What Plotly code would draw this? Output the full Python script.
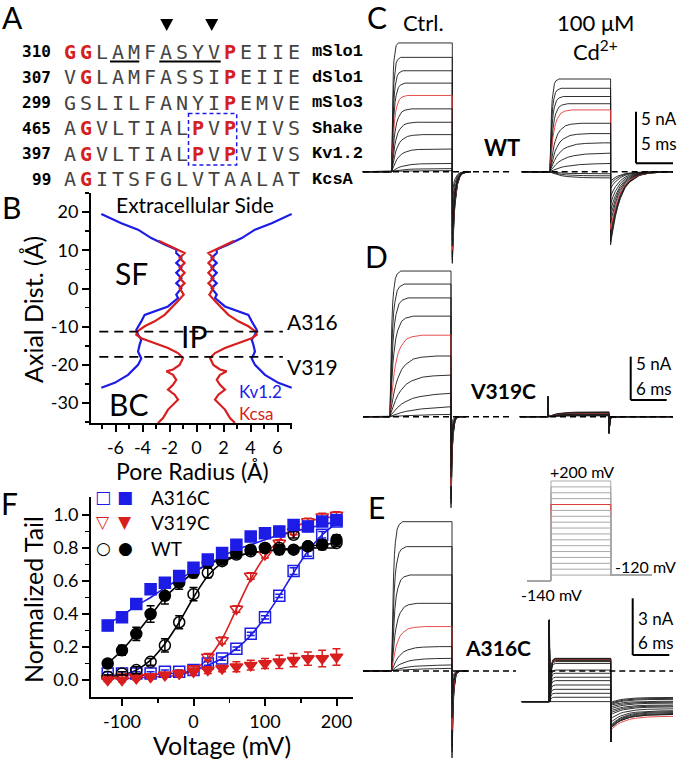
import plotly.graph_objects as go

W, H = 678, 761
FONT = "Lato, 'Open Sans', sans-serif"
MONO = "'DejaVu Sans Mono', monospace"
SMONO = "'Liberation Mono', monospace"
BLUE = "#1c1ce6"
RED = "#d81e1e"
TRED = "#e23a3a"
BLACK = "#1a1a1a"

# ---------------- Panel A : alignment ----------------
SEQ_NUMS = ["310", "307", "299", "465", "397", "99"]
SEQ_ROWS = ["GGLAMFASYVPEIIE", "VGLAMFASSIPEIIE", "GSLILFANYIPEMVE",
            "AGVLTIALPVPVIVS", "AGVLTIALPVPVIVS", "AGITSFGLVTAALAT"]
SEQ_NAMES = ["mSlo1", "dSlo1", "mSlo3", "Shake", "Kv1.2", "KcsA"]
SEQ_RED = [[0, 1, 10], [1, 10], [10], [1, 8, 10], [1, 8, 10], [1]]

# ---------------- Panel B : pore radius profiles ----------------
KV_Z = [19.5, 17.1, 15.4, 13.2, 11.5, 10.2, 9.3, 8.0, 6.7, 5.4, 4.1, 2.7, 1.4, 0.1, -1.6,
        -2.5, -4.7, -6.0, -6.9, -8.6, -10.8, -12.1, -13.4, -14.7, -16.5, -18.3, -20.0,
        -22.6, -24.7, -26.0]
KV_R = [7.05, 5.57, 4.33, 3.35, 2.36, 1.50, 1.50, 1.12, 1.50, 1.12, 1.50, 1.12, 1.50, 1.12,
        1.50, 1.37, 2.11, 3.10, 3.84, 4.09, 4.46, 4.33, 4.09, 4.21, 4.33, 4.09, 4.33,
        5.07, 6.06, 7.05]
KC_Z = [12.5, 10.8, 9.3, 8.0, 6.7, 5.4, 4.1, 2.7, 1.4, 0.1, -1.6, -3.3, -5.1, -6.9, -8.6,
        -9.9, -11.3, -12.1, -13.0, -14.3, -15.6, -16.9, -18.2, -20.0, -21.2, -21.7, -22.6,
        -23.9, -25.2, -26.5, -27.8, -29.1, -30.4, -31.7, -33.9, -35.2]
KC_R = [2.80, 1.80, 0.88, 1.25, 0.88, 1.25, 0.88, 1.25, 0.88, 1.25, 0.95, 1.37, 1.86, 2.36,
        3.10, 3.84, 4.40, 4.46, 4.09, 3.10, 2.11, 1.37, 1.00, 1.25, 1.74, 2.23, 1.74,
        1.50, 1.74, 2.11, 1.62, 1.37, 1.74, 2.11, 2.48, 2.85]
B_XTICKS = [-6, -4, -2, 0, 2, 4, 6]
B_YTICKS = [-30, -20, -10, 0, 10, 20]
A316_Z, V319_Z = -11.3, -17.9

# ---------------- Panel F : normalized tail ----------------
V_STEPS = [-120, -100, -80, -60, -40, -20, 0, 20, 40, 60, 80, 100, 120, 140, 160, 180, 200]
A316C_OPEN = [0.04, 0.04, 0.04, 0.04, 0.05, 0.05, 0.06, 0.10, 0.13, 0.19, 0.28, 0.38, 0.51, 0.66, 0.77, 0.88, 0.96]
A316C_FILL = [0.33, 0.38, 0.46, 0.55, 0.59, 0.63, 0.68, 0.73, 0.77, 0.82, 0.87, 0.89, 0.90, 0.94, 0.93, 0.96, 0.97]
V319C_OPEN = [0.01, 0.02, 0.02, 0.02, 0.03, 0.04, 0.07, 0.14, 0.24, 0.43, 0.63, 0.76, 0.83, 0.90, 0.96, 0.99, 1.00]
V319C_FILL = [0.00, 0.00, 0.01, 0.02, 0.03, 0.04, 0.05, 0.06, 0.07, 0.08, 0.09, 0.10, 0.11, 0.12, 0.13, 0.13, 0.14]
WT_OPEN = [0.02, 0.04, 0.06, 0.11, 0.21, 0.35, 0.52, 0.65, 0.72, 0.76, 0.78, 0.80, 0.80, 0.88, 0.81, 0.82, 0.83]
WT_FILL = [0.10, 0.18, 0.28, 0.40, 0.51, 0.59, 0.65, 0.71, 0.73, 0.77, 0.79, 0.80, 0.79, 0.79, 0.81, 0.82, 0.85]
A316C_OPEN_ERR = [0.01, 0.01, 0.01, 0.01, 0.01, 0.01, 0.01, 0.01, 0.01, 0.01, 0.01, 0.01, 0.01, 0.02, 0.02, 0.02, 0.02]
A316C_FILL_ERR = [0.03, 0.03, 0.03, 0.03, 0.02, 0.02, 0.02, 0.02, 0.02, 0.02, 0.02, 0.02, 0.03, 0.02, 0.03, 0.02, 0.03]
V319C_OPEN_ERR = [0.01, 0.01, 0.01, 0.01, 0.01, 0.01, 0.01, 0.02, 0.02, 0.02, 0.02, 0.02, 0.02, 0.02, 0.02, 0.02, 0.02]
V319C_FILL_ERR = [0.01, 0.01, 0.01, 0.01, 0.01, 0.02, 0.02, 0.02, 0.02, 0.03, 0.03, 0.03, 0.04, 0.04, 0.04, 0.05, 0.05]
WT_OPEN_ERR = [0.01, 0.01, 0.02, 0.02, 0.04, 0.04, 0.04, 0.03, 0.02, 0.02, 0.02, 0.02, 0.02, 0.02, 0.02, 0.02, 0.02]
WT_FILL_ERR = [0.02, 0.03, 0.04, 0.05, 0.05, 0.04, 0.03, 0.03, 0.03, 0.02, 0.02, 0.02, 0.03, 0.02, 0.02, 0.03, 0.03]
FIT_A316C_OPEN = [0.03, 0.03, 0.03, 0.03, 0.04, 0.04, 0.06, 0.09, 0.13, 0.19, 0.27, 0.38, 0.51, 0.65, 0.78, 0.88, 0.95]
FIT_A316C_FILL = [0.34, 0.39, 0.45, 0.50, 0.56, 0.61, 0.66, 0.70, 0.75, 0.79, 0.82, 0.85, 0.88, 0.90, 0.92, 0.94, 0.96]
FIT_V319C_OPEN = [0.01, 0.01, 0.01, 0.02, 0.02, 0.03, 0.06, 0.13, 0.25, 0.43, 0.61, 0.75, 0.85, 0.92, 0.96, 0.98, 0.99]
FIT_WT_OPEN = [0.02, 0.03, 0.06, 0.12, 0.22, 0.35, 0.50, 0.63, 0.71, 0.75, 0.77, 0.78, 0.79, 0.79, 0.80, 0.80, 0.80]
FIT_WT_FILL = [0.10, 0.18, 0.28, 0.39, 0.50, 0.58, 0.65, 0.70, 0.73, 0.75, 0.77, 0.78, 0.79, 0.80, 0.81, 0.82, 0.83]
F_XTICKS = [-100, 0, 100, 200]
F_YTICKS = [0.0, 0.2, 0.4, 0.6, 0.8, 1.0]

# ---------------- Current traces (nA, ms) ----------------
# shared relaxation profile (time in units of tau, fraction completed)
SHAPE_T = [0, 0.1, 0.25, 0.5, 0.75, 1, 1.5, 2, 3, 4, 6]
SHAPE_F = [0, 0.10, 0.22, 0.39, 0.53, 0.63, 0.78, 0.86, 0.95, 0.98, 1.0]

# C : WT
C_CTRL_AMP = [12.5, 11.1, 9.8, 8.6, 7.4, 6.1, 4.8, 3.6, 2.2, 0.8, 0.3, 0.1]
C_CTRL_TAU = [0.15, 0.2, 0.25, 0.3, 0.35, 0.45, 0.55, 0.7, 0.9, 1.3, 1.6, 2.0]
C_CTRL_TAIL = [-8.9, -8.6, -8.3, -8.0, -7.6, -7.2, -6.7, -6.1, -5.3, -4.2, -3.0, -2.0]
C_CD_AMP = [9.0, 8.1, 7.3, 6.6, 6.0, 4.7, 3.7, 2.8, 1.8, 0.8, -0.2, -0.4, -0.6]
C_CD_TAU = [0.2, 0.25, 0.3, 0.4, 0.5, 0.7, 0.9, 1.2, 1.6, 2.0, 1.5, 1.5, 1.5]
C_CD_TAIL = [-7.1, -6.8, -6.4, -6.0, -5.6, -5.0, -4.4, -3.8, -3.1, -2.4, -1.6, -1.2, -0.9]
C_RED = 4
# D : V319C
D_CTRL_AMP = [16.8, 15.3, 13.7, 11.6, 9.4, 7.0, 4.8, 2.7, 1.15, 0.3]
D_CTRL_TAU = [0.3, 0.4, 0.5, 0.65, 0.9, 1.3, 1.8, 2.5, 3.5, 5.0]
D_CTRL_TAIL = [-10.5, -10.0, -9.5, -8.8, -8.0, -7.0, -5.8, -4.4, -3.0, -1.5]
D_CD_AMP = [0.55, 0.5, 0.45, 0.4, 0.35, 0.3, 0.25, 0.2, 0.15, 0.1]
D_CD_TAIL = [-0.3, -0.28, -0.25, -0.22, -0.2, -0.18, -0.15, -0.12, -0.1, -0.08]
D_CD_SPIKE_ON, D_CD_SPIKE_OFF = 2.3, -1.9
D_RED = 4
# E : A316C
E_CTRL_AMP = [7.9, 6.58, 5.08, 3.58, 2.35, 1.29, 0.67, 0.32, 0.14]
E_CTRL_TAU = [0.3, 0.4, 0.5, 0.7, 0.9, 1.3, 1.8, 2.5, 3.5]
E_CTRL_TAIL = [-4.6, -4.3, -4.0, -3.6, -3.1, -2.5, -1.8, -1.2, -0.6]
E_CD_HOLD = -1.62
E_CD_AMP = [0.67, 0.65, 0.63, 0.60, 0.58, 0.55, 0.50, 0.40, 0.05, -0.12, -0.33, -0.51, -0.74,
            -0.97, -1.18, -1.39, -1.62]
E_CD_TAIL0 = [-3.0, -3.0, -2.95, -2.9, -3.1, -2.85, -2.7, -2.5, -2.3, -2.2, -2.1, -2.0, -1.9,
              -1.8, -1.75, -1.7, -1.65]
E_CD_TAIL1 = [-2.3, -2.3, -2.25, -2.2, -2.4, -2.15, -2.1, -2.0, -1.9, -1.85, -1.8, -1.7, -1.65,
              -1.6, -1.5, -1.45, -1.4]
E_CD_SPIKE_ON, E_CD_SPIKE_OFF = 2.7, -3.75
E_RED = 4
# protocol (mV)
PROTO_STEPS = [200, 180, 160, 140, 120, 100, 80, 60, 40, 20, 0, -20, -40, -60, -80, -100, -120]
PROTO_HOLD, PROTO_TAIL = -140, -120
PROTO_RED = 4

# ============ layout geometry (pixels) ============
def xdom(a, b):
    return [a / W, b / W]

def ydom(top, bottom):
    return [1 - bottom / H, 1 - top / H]

def xrng(a, b, origin, scale):
    return [(a - origin) / scale, (b - origin) / scale]

def yrng(top, bottom, origin, scale):
    return [(origin - bottom) / scale, (origin - top) / scale]

def px(x):
    return x / W

def py(y):
    return 1 - y / H

annotations = []
shapes = []

def text(x, y, s, size, color="black", family=FONT, xanchor="center", yanchor="middle", angle=0):
    annotations.append(dict(x=px(x), y=py(y), xref="paper", yref="paper", text=s, showarrow=False,
                            font=dict(size=size, color=color, family=family),
                            xanchor=xanchor, yanchor=yanchor, textangle=angle))

fig = go.Figure()

# ---------- Panel A ----------
ROW_Y0, ROW_DY = 51.5, 25.6
SEQ_X0, SEQ_DX = 61.7, 16.0
for i, (num, seq, name, reds) in enumerate(zip(SEQ_NUMS, SEQ_ROWS, SEQ_NAMES, SEQ_RED)):
    y = ROW_Y0 + i * ROW_DY
    text(53, y, f"<b>{num}</b>", 16, family=MONO, xanchor="right")
    for j, ch in enumerate(seq):
        cx = SEQ_X0 + SEQ_DX * j + 8
        if j in reds:
            text(cx, y, f"<b>{ch}</b>", 20, color="#d42020", family=MONO)
        else:
            text(cx, y, ch, 20, color="#444444", family=MONO)
    text(310, y, f"<b>{name}</b>", 17, family=SMONO, xanchor="left")

for x0, x1 in [(110, 139.3), (159.3, 220.7)]:
    shapes.append(dict(type="line", xref="paper", yref="paper", x0=px(x0), x1=px(x1),
                       y0=py(61.5), y1=py(61.5), line=dict(color="black", width=2)))
for cx in [166.7, 211.7]:
    shapes.append(dict(type="path", xref="paper", yref="paper",
                       path=f"M {px(cx-6.5)},{py(19)} L {px(cx+6.5)},{py(19)} L {px(cx)},{py(31)} Z",
                       fillcolor="black", line=dict(width=0)))
shapes.append(dict(type="rect", xref="paper", yref="paper", x0=px(188.5), x1=px(236.7),
                   y0=py(113.5), y1=py(165), line=dict(color=BLUE, width=1.5, dash="4px,3px")))

# panel letters
for lab, x, y in [("A", 12.5, 16.7), ("B", 11, 207), ("F", 9, 503),
                  ("C", 376.7, 17.5), ("D", 376.7, 256), ("E", 376, 506.7)]:
    text(x, y, lab, 30)

# ---------- Panel B ----------
for zs, rs, col in [(KV_Z, KV_R, BLUE), (KC_Z, KC_R, RED)]:
    fig.add_trace(go.Scatter(x=[-r for r in rs], y=zs, mode="lines", xaxis="x", yaxis="y",
                             line=dict(color=col, width=2.2), hoverinfo="skip"))
    fig.add_trace(go.Scatter(x=rs, y=zs, mode="lines", xaxis="x", yaxis="y",
                             line=dict(color=col, width=2.2), hoverinfo="skip"))
for zline in [A316_Z, V319_Z]:
    fig.add_trace(go.Scatter(x=[-7.2, 6.4], y=[zline, zline], mode="lines", xaxis="x", yaxis="y",
                             line=dict(color="black", width=1.6, dash="9px,6px"), hoverinfo="skip"))
text(195, 204, "Extracellular Side", 21)
text(131, 273, "SF", 30)
text(194, 336, "IP", 30)
text(128, 404, "BC", 30)
text(285, 321.7, "A316", 21, xanchor="left")
text(285, 366, "V319", 21, xanchor="left")
text(237, 391.5, "Kv1.2", 17, color=BLUE, xanchor="left")
text(237, 414, "Kcsa", 17, color=RED, xanchor="left")
text(33, 310, "Axial Dist. (Å)", 25, angle=-90)
text(192, 471, "Pore Radius (Å)", 23)

# ---------- Panel F ----------
F_SERIES = [
    (A316C_OPEN, A316C_OPEN_ERR, FIT_A316C_OPEN, BLUE, "square-open"),
    (V319C_OPEN, V319C_OPEN_ERR, FIT_V319C_OPEN, RED, "triangle-down-open"),
    (WT_OPEN, WT_OPEN_ERR, FIT_WT_OPEN, "black", "circle-open"),
    (WT_FILL, WT_FILL_ERR, FIT_WT_FILL, "black", "circle"),
    (A316C_FILL, A316C_FILL_ERR, FIT_A316C_FILL, BLUE, "square"),
    (V319C_FILL, V319C_FILL_ERR, None, RED, "triangle-down"),
]
for vals, err, fit, col, sym in F_SERIES:
    if fit is not None:
        fig.add_trace(go.Scatter(x=V_STEPS, y=fit, mode="lines", xaxis="x2", yaxis="y2",
                                 line=dict(color=col, width=1.6, shape="spline"), hoverinfo="skip"))
for vals, err, fit, col, sym in F_SERIES:
    fig.add_trace(go.Scatter(x=V_STEPS, y=vals, mode="markers", xaxis="x2", yaxis="y2",
                             marker=dict(symbol=sym, size=11, color=col, line=dict(color=col, width=1.5)),
                             error_y=dict(type="data", array=err, color=col, thickness=1.5, width=4),
                             hoverinfo="skip"))
LEG = [(497, "□", "■", BLUE, "A316C"), (522, "▽", "▼", RED, "V319C"), (548, "○", "●", "black", "WT")]
for y, o, f, col, lab in LEG:
    text(103, y, o, 17, color=col, family="'DejaVu Sans'")
    text(125, y, f, 17, color=col, family="'DejaVu Sans'")
    text(149, y, lab, 19, xanchor="left")
text(33, 600, "Normalized Tail", 25, angle=-90)
text(222, 745, "Voltage (mV)", 25)

# ---------- current traces ----------
def sweep(t_on, dur, pre, post, hold, amp, tau_on, tail_peak, tau_tail, tail_end=0.0,
          spike_on=None, spike_off=None):
    t_off = t_on + dur
    xs, ys = [t_on - pre, t_on], [hold, hold]
    t_start = t_on
    if spike_on is not None:
        xs += [t_on, t_on + 0.1]
        ys += [spike_on, hold]
        t_start = t_on + 0.1
    for T, F in zip(SHAPE_T, SHAPE_F):
        t = t_start + tau_on * T
        if t >= t_off:
            break
        xs.append(t)
        ys.append(hold + (amp - hold) * F)
    xs.append(t_off)
    ys.append(amp)
    if spike_off is not None:
        xs += [t_off, t_off + 0.1]
        ys += [spike_off, tail_peak]
        t_tail = t_off + 0.1
    else:
        xs.append(t_off)
        ys.append(tail_peak)
        t_tail = t_off
    for T, F in zip(SHAPE_T[1:], SHAPE_F[1:]):
        t = t_tail + tau_tail * T
        if t >= t_off + post:
            break
        xs.append(t)
        ys.append(tail_peak + (tail_end - tail_peak) * F)
    xs.append(t_off + post)
    ys.append(tail_end)
    return xs, ys

def add_family(xa, ya, items, red_idx):
    for i, (xs, ys) in enumerate(items):
        fig.add_trace(go.Scatter(x=xs, y=ys, mode="lines", xaxis=xa, yaxis=ya,
                                 line=dict(color=TRED if i == red_idx else BLACK, width=0.9),
                                 hoverinfo="skip"))

def dashed(xa, ya, t0, t1):
    fig.add_trace(go.Scatter(x=[t0, t1], y=[0, 0], mode="lines", xaxis=xa, yaxis=ya,
                             line=dict(color="black", width=1.5, dash="6px,4px"), hoverinfo="skip"))

# geometry of current panels: (origin px of ctrl pulse, px/ms, baseline px, px/nA)
C_G = (391.7, 7.4, 171.7, 10.3)
D_G = (390.0, 6.0, 416.7, 8.67)
E_G = (391.7, 6.1, 671.0, 18.9)

def tx(G, x):
    return (x - G[0]) / G[1]

def iy(G, y):
    return (G[2] - y) / G[3]

# Panel C
c_dur, c_off = tx(C_G, 452.3), tx(C_G, 550)
add_family("x3", "y3", [sweep(0, c_dur, 3.9, 2.5, 0, a, t, tp, 0.35)
                        for a, t, tp in zip(C_CTRL_AMP, C_CTRL_TAU, C_CTRL_TAIL)], C_RED)
add_family("x3", "y3", [sweep(c_off, c_dur, 3.8, tx(C_G, 673) - c_off - c_dur, 0, a, t, tp, 1.3)
                        for a, t, tp in zip(C_CD_AMP, C_CD_TAU, C_CD_TAIL)], C_RED)
dashed("x3", "y3", tx(C_G, 363), tx(C_G, 511.7))
dashed("x3", "y3", tx(C_G, 521.7), tx(C_G, 673))
# Panel D
d_dur, d_off = tx(D_G, 451), tx(D_G, 548)
add_family("x4", "y4", [sweep(0, d_dur, 4.5, 2.5, 0, a, t, tp, 0.22)
                        for a, t, tp in zip(D_CTRL_AMP, D_CTRL_TAU, D_CTRL_TAIL)], D_RED)
add_family("x4", "y4", [sweep(d_off, d_dur, 4.7, tx(D_G, 673) - d_off - d_dur, 0, a, 1.5, tp, 0.4,
                              spike_on=D_CD_SPIKE_ON, spike_off=D_CD_SPIKE_OFF)
                        for a, tp in zip(D_CD_AMP, D_CD_TAIL)], D_RED)
dashed("x4", "y4", tx(D_G, 363), tx(D_G, 513))
dashed("x4", "y4", tx(D_G, 520), tx(D_G, 673))
# Panel E
e_dur, e_off = tx(E_G, 452), tx(E_G, 549.3)
e_cd_dur = tx(E_G, 610.7) - e_off
add_family("x5", "y5", [sweep(0, e_dur, 4.7, 2.5, 0, a, t, tp, 0.22)
                        for a, t, tp in zip(E_CTRL_AMP, E_CTRL_TAU, E_CTRL_TAIL)], E_RED)
add_family("x5", "y5", [sweep(e_off, e_cd_dur, 4.5, tx(E_G, 673) - e_off - e_cd_dur, E_CD_HOLD, a, 0.15,
                              t0, 2.0, tail_end=t1, spike_on=E_CD_SPIKE_ON, spike_off=E_CD_SPIKE_OFF)
                        for a, t0, t1 in zip(E_CD_AMP, E_CD_TAIL0, E_CD_TAIL1)], E_RED)
dashed("x5", "y5", tx(E_G, 363), tx(E_G, 516))
dashed("x5", "y5", e_off, tx(E_G, 673))

# Protocol inset (x6: ms, y6: mV)
P_PRE, P_DUR, P_POST = 3.9, 9.8, 6.7
for i, v in enumerate(PROTO_STEPS):
    fig.add_trace(go.Scatter(x=[-P_PRE, 0, 0, P_DUR, P_DUR, P_DUR + P_POST],
                             y=[PROTO_HOLD, PROTO_HOLD, v, v, PROTO_TAIL, PROTO_TAIL],
                             mode="lines", xaxis="x6", yaxis="y6",
                             line=dict(color=TRED if i == PROTO_RED else "#a8a8a8", width=1),
                             hoverinfo="skip"))
text(581.7, 471.5, "+200 mV", 16)
text(612.5, 566, "-120 mV", 16, xanchor="left")
text(551.7, 594, "-140 mV", 16)

# labels C/D/E
text(423, 22, "Ctrl.", 22)
text(595, 23, "100 μM", 22)
text(595, 51, "Cd<sup>2+</sup>", 22)
text(502, 147, "<b>WT</b>", 22)
text(503, 390, "<b>V319C</b>", 21)
text(498, 647, "<b>A316C</b>", 21)

# scale bars
def scalebar(G, xa, ya, xpx, ypx, nA, ms, lab1, lab2, ly1, ly2):
    t0, i0 = tx(G, xpx), iy(G, ypx)
    shapes.append(dict(type="line", xref=xa, yref=ya, x0=t0, x1=t0, y0=i0, y1=i0 + nA,
                       line=dict(color="black", width=2)))
    shapes.append(dict(type="line", xref=xa, yref=ya, x0=t0, x1=t0 + ms, y0=i0, y1=i0,
                       line=dict(color="black", width=2)))
    text(xpx + 3, ly1, lab1, 17, xanchor="left")
    text(xpx + 3, ly2, lab2, 17, xanchor="left")

scalebar(C_G, "x3", "y3", 636, 163.3, 5, 5, "5 nA", "5 ms", 118, 143)
scalebar(D_G, "x4", "y4", 630.7, 400, 5, 6, "5 nA", "6 ms", 363, 388)
scalebar(E_G, "x5", "y5", 632.7, 655, 3, 6, "3 nA", "6 ms", 618, 642)

# ---------- axes ----------
axis_common = dict(showgrid=False, zeroline=False, showline=True, linecolor="black", linewidth=2,
                   ticks="outside", ticklen=7, tickwidth=2, tickcolor="black",
                   tickfont=dict(size=18, family=FONT, color="black"))
hidden = dict(visible=False, showgrid=False, zeroline=False, fixedrange=True)

fig.update_layout(
    width=W, height=H, autosize=False, margin=dict(l=0, r=0, t=0, b=0),
    paper_bgcolor="white", plot_bgcolor="rgba(0,0,0,0)", showlegend=False,
    font=dict(family=FONT, color="black"),
    xaxis=dict(domain=xdom(91, 292), range=xrng(91, 292, 196.5, 13.5), anchor="y",
               tickvals=B_XTICKS, ticktext=[str(v) for v in B_XTICKS],
               minor=dict(tickvals=[-7, -5, -3, -1, 1, 3, 5, 7], ticklen=4, tickwidth=1.5,
                          ticks="outside", tickcolor="black"), **axis_common),
    yaxis=dict(domain=ydom(193, 423), range=yrng(193, 423, 288.5, 3.82), anchor="x",
               tickvals=B_YTICKS, ticktext=[str(v) for v in B_YTICKS],
               minor=dict(tickvals=[-35, -25, -15, -5, 5, 15, 25], ticklen=4, tickwidth=1.5,
                          ticks="outside", tickcolor="black"), **axis_common),
    xaxis2=dict(domain=xdom(91, 353), range=xrng(91, 353, 193.5, 0.715), anchor="y2",
                tickvals=F_XTICKS, ticktext=[str(v) for v in F_XTICKS],
                minor=dict(tickvals=[-50, 50, 150], ticklen=4, tickwidth=1.5,
                           ticks="outside", tickcolor="black"), **axis_common),
    yaxis2=dict(domain=ydom(497, 697), range=yrng(497, 697, 680, 165), anchor="x2",
                tickvals=F_YTICKS, ticktext=[f"{v:.1f}" for v in F_YTICKS],
                minor=dict(tickvals=[0.1, 0.3, 0.5, 0.7, 0.9], ticklen=4, tickwidth=1.5,
                           ticks="outside", tickcolor="black"), **axis_common),
    xaxis3=dict(domain=xdom(355, 678), range=xrng(355, 678, C_G[0], C_G[1]), anchor="y3", **hidden),
    yaxis3=dict(domain=ydom(25, 270), range=yrng(25, 270, C_G[2], C_G[3]), anchor="x3", **hidden),
    xaxis4=dict(domain=xdom(355, 678), range=xrng(355, 678, D_G[0], D_G[1]), anchor="y4", **hidden),
    yaxis4=dict(domain=ydom(240, 515), range=yrng(240, 515, D_G[2], D_G[3]), anchor="x4", **hidden),
    xaxis5=dict(domain=xdom(355, 678), range=xrng(355, 678, E_G[0], E_G[1]), anchor="y5", **hidden),
    yaxis5=dict(domain=ydom(440, 761), range=yrng(440, 761, E_G[2], E_G[3]), anchor="x5", **hidden),
    xaxis6=dict(domain=xdom(520, 660), range=xrng(520, 660, 551, 6.1), anchor="y6", **hidden),
    yaxis6=dict(domain=ydom(470, 600), range=yrng(470, 600, 539.8, 0.294), anchor="x6", **hidden),
    annotations=annotations,
    shapes=shapes,
)

fig.write_html("out.html", config={"displayModeBar": False, "staticPlot": True},
               post_script="document.body.style.margin='0px';document.body.style.padding='0px';")
